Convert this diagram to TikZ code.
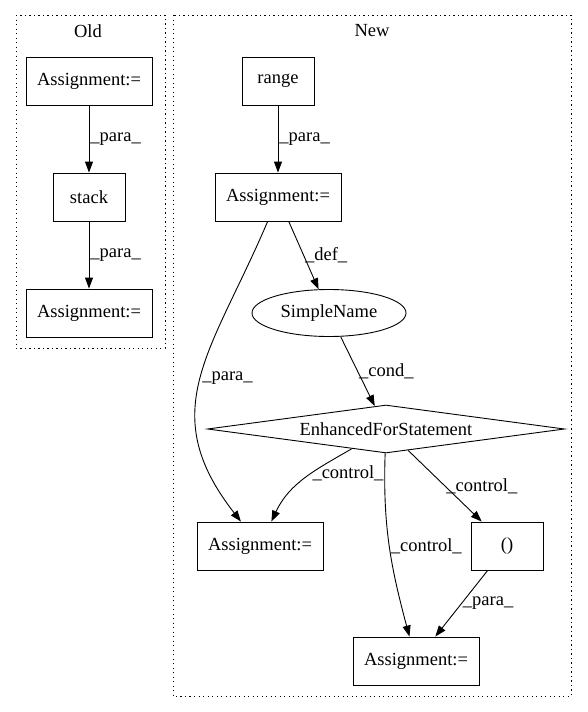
\documentclass[tikz,border=0pt]{standalone}
\usepackage{fontspec}
\setmainfont{Liberation Serif}
\usepackage{tikz}
\usetikzlibrary{shapes.geometric,arrows.meta}

\tikzset{
  stmtbox/.style={draw,rectangle,minimum width=126pt,minimum height=48pt,inner sep=2pt},
  smallbox/.style={draw,rectangle,minimum width=72pt,minimum height=48pt,inner sep=2pt},
  namebox/.style={draw,ellipse,minimum width=154pt,minimum height=47pt,inner sep=0pt},
  forbox/.style={draw,diamond,minimum width=357pt,minimum height=48pt,inner sep=0pt,aspect=7.4},
  lbl/.style={right,inner sep=1pt},
  cluster/.style={dash pattern=on 1.3pt off 3.2pt,line width=1pt}
}

\begin{document}
\begin{tikzpicture}[x=1pt,y=1pt,->,>={Triangle[length=11pt,width=8pt]},line width=0.9pt,
                    font=\fontsize{18.5}{20}\selectfont]
		\useasboundingbox (0,0) rectangle (587,-712);
		% clusters
		\draw[cluster,-] (16,-15) rectangle (165,-348);
		\draw[cluster,-] (173,-15) rectangle (571,-696);
		\node (old) at (88,-31) {Old};
		\node (new) at (372,-31) {New};

		% old
		\node[stmtbox] (o1) at (89,-81) {Assignment:=};
		\node[smallbox] (stack) at (89,-197) {stack};
		\node[stmtbox] (o2) at (89,-313) {Assignment:=};

		% new
		\node[smallbox] (range) at (278,-81) {range};
		\node[stmtbox] (n1) at (278,-197) {Assignment:=};
		\node[namebox] (sn) at (329,-313) {SimpleName};
		\node[forbox] (efs) at (386,-429) {EnhancedForStatement};
		\node[stmtbox] (n3) at (260,-546) {Assignment:=};
		\node[smallbox] (par) at (507,-546) {()};
		\node[stmtbox] (n4) at (416,-661) {Assignment:=};

		\path (o1) edge node[lbl] {\_para\_} (stack);
		\path (stack) edge node[lbl] {\_para\_} (o2);

		\path (range) edge node[lbl] {\_para\_} (n1);
		\path (n1) edge node[lbl] {\_def\_} (sn);
		\path (n1) edge [out=247,in=128,looseness=1.2] node[lbl] {\_para\_} (n3);
		\path (sn) edge node[lbl] {\_cond\_} (efs);
		\path (efs) edge [out=210,in=65] node[lbl,pos=.42] {\_control\_} (n3);
		\path (efs) edge [out=268,in=105] node[lbl] {\_control\_} (n4);
		\path (efs) edge node[lbl] {\_control\_} (par);
		\path (par) edge node[lbl] {\_para\_} (n4);
\end{tikzpicture}
\end{document}
